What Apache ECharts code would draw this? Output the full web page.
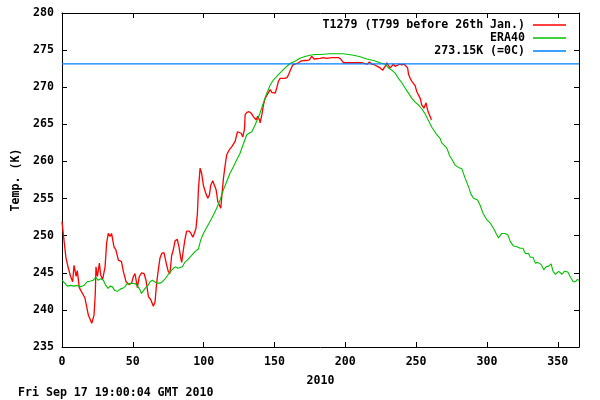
<!DOCTYPE html>
<html>
<head>
<meta charset="utf-8">
<script src="https://cdn.jsdelivr.net/npm/echarts@6/dist/echarts.min.js"></script>
<style>
html,body{margin:0;padding:0;background:#fff;}
#chart{width:600px;height:400px;}
</style>
</head>
<body>
<div id="chart"></div>
<script>
// ---- data ----
const seriesNames = ['T1279 (T799 before 26th Jan.)', 'ERA40', '273.15K (=0C)'];
const xTickValues = [0, 50, 100, 150, 200, 250, 300, 350];
const yearLabel = '2010';
const yAxisTitle = 'Temp. (K)';
const footerText = 'Fri Sep 17 19:00:04 GMT 2010';
const freezingK = 273.15;
const dayRange = [0, 365];

const redDays = [0,1,2.8,4.5,6.1,7.5,8.5,10,10.8,12.2,13.6,16.2,18.6,21,22.6,23.5,24,25,26.4,27.3,28.7,30.4,31.5,32.7,34,35,36.7,38,39.8,42,43.3,45.2,47.4,49.3,50.4,51.5,52.7,53.2,54.6,56.2,57.9,59.3,61,62.6,64.5,65.7,66.8,68,69.2,70.4,72,72.9,73.8,75,76.2,77.4,78.6,79.8,81.4,82.6,83.8,84.5,85.7,86.8,88,89.9,91,92.4,93.4,94.6,95.6,96.3,97.5,98.6,99.8,101.5,102.9,104.1,105,106.4,107.6,108.8,110,111.2,112.1,112.8,114,115.2,116.3,118.2,119.9,122.2,123.9,125.3,126.5,127.6,128.8,129.3,130.5,132.1,133.6,135.1,137,138.2,139.4,139.9,141.1,142.2,143.4,144.1,145.8,147,148.1,150.5,151.6,152.8,154,155.2,157.1,158.8,160,161.2,162.9,164.5,166.9,168.5,170.4,171.6,172.8,174.6,176.3,178,179.4,182.2,184.6,186.9,188.1,190.5,191.7,192.8,195.2,196.8,198.7,201.1,203.4,205.8,207,209.3,211.7,213.3,214.7,215.6,217,218.7,221,222.7,224.6,226.5,227.4,228.8,229.3,230.5,231.7,232.8,234,235.2,236.4,238.3,239.2,239.9,241.6,243,244,244.7,245.8,247,248.1,249.3,250.5,251.7,252.9,254,254.7,255.6,257,258,258.7,259.9,260.8];
const redTemps = [251.9,250.1,247.0,245.6,244.5,243.8,246.0,244.5,245.3,243.0,242.8,241.6,239.3,238.2,239.3,242.2,245.8,244.5,246.3,244.7,244.1,245.8,249.0,250.3,249.9,250.3,248.5,248.1,246.7,246.5,245.2,243.8,243.4,243.7,244.5,244.9,243.6,243.0,244.5,245.0,244.9,244.0,241.8,241.4,240.5,241.1,243.6,245.4,247.0,247.6,247.7,247.5,246.1,245.2,244.9,247.3,248.1,249.3,249.5,248.5,247.0,246.4,248.1,249.5,250.6,250.6,250.3,249.8,250.3,251.0,253.0,256.2,259.1,258.4,256.8,255.7,255.05,255.5,256.8,257.4,257.2,256.2,254.6,254.4,253.7,255.3,257.75,259.5,260.9,261.6,262.0,262.7,264.0,264.1,263.8,263.3,264.3,266.3,266.6,266.7,266.5,266.05,265.6,266.1,265.6,265.2,266.3,267.6,268.5,268.7,269.3,269.7,269.3,269.2,269.9,270.8,271.2,271.4,271.2,271.3,271.7,272.3,273.0,273.1,273.3,273.5,273.6,273.8,273.6,273.7,274.15,273.8,273.9,273.9,274.0,273.9,274.0,274.0,273.9,274.0,274.0,273.8,273.3,273.3,273.3,273.3,273.4,273.3,273.3,273.2,273.4,273.1,273.4,273.1,273.0,272.8,272.6,272.3,272.6,273.0,273.3,272.9,272.6,272.8,273.1,272.8,273.0,273.1,273.3,273.0,273.1,273.0,272.6,271.7,271.2,270.8,270.6,270.2,269.4,269.2,268.5,267.6,267.8,267.2,267.9,267.0,266.6,266.05,265.6];

const greenDays = [0,1.9,3.8,6.1,8.5,10.8,12.7,15.5,17.9,20.3,22.1,23.8,25.4,27.3,29.2,30.9,32.5,34,35.6,37.3,39.2,41.1,42.7,44.3,45.8,47.4,49.7,52.1,53.7,55.1,56.1,57.5,59.1,60.7,62.2,63.8,65.4,67.3,69.2,70.9,72.5,74.4,76.7,78.6,80.3,81.9,83.3,85,86.6,88.5,90.9,93.9,96.3,97.9,99.8,102.1,104.5,106.9,109.2,111.6,114,116.3,118.6,121,123.3,125.7,130.4,134,136.3,139.8,142.2,144.6,147,149.3,152.8,154,157.5,161,164.5,168,171.6,175.1,178.6,182.2,189.3,194,198.7,202.3,205.8,210.5,215.2,219.9,224.6,228.2,230.5,232.8,235.2,237.5,239.9,242.2,244.6,247,249.3,251.7,254,256.4,258.7,261.1,262.2,264.6,266.9,268.1,271.7,273.6,275.2,277.6,279.9,282.3,284.6,287,288.7,290.5,293.4,295.2,297.3,299.7,302.3,304.6,306.5,308.2,310.5,312.9,314.8,316.5,318.8,321.2,323.5,325.4,327.1,329.4,330.6,332.5,334.2,335.8,337.2,338.4,340.1,341.7,343.6,345.3,346.7,348.3,350.7,353,354.7,357.1,359,360.9,362.6,363.7,365];
const greenTemps = [244.0,243.6,243.2,243.3,243.2,243.3,243.1,243.3,243.8,243.9,244.0,244.4,244.0,244.2,244.0,243.3,242.9,243.2,243.1,242.6,242.5,242.8,242.9,243.1,243.5,243.5,243.6,243.5,243.1,242.7,242.2,242.6,243.0,243.3,243.8,244.0,243.8,243.6,243.6,243.8,244.1,244.6,245.2,245.6,245.8,245.6,245.6,245.8,246.4,246.7,247.2,247.85,248.2,249.4,250.3,251.1,251.9,252.8,253.7,254.8,256.2,257.3,258.4,259.3,260.2,261.1,263.6,264.0,264.9,266.5,267.9,269.2,270.3,271.0,271.7,271.9,272.6,273.2,273.5,273.9,274.15,274.3,274.4,274.4,274.5,274.5,274.5,274.4,274.3,274.1,273.8,273.6,273.3,273.1,272.6,272.3,271.9,271.2,270.6,269.9,269.2,268.5,268.0,267.6,267.1,266.4,265.5,264.6,264.5,263.6,263.1,262.5,261.8,260.8,260.3,259.5,259.2,259.0,257.75,256.6,255.6,255.05,254.8,254.1,253.0,252.2,251.7,251.0,250.3,249.7,250.3,250.3,250.1,249.2,248.6,248.5,248.3,248.3,247.6,247.6,247.1,247.1,246.3,246.4,246.6,246.1,245.4,245.8,245.9,246.2,245.2,244.8,245.2,244.8,245.2,245.1,244.4,243.8,243.8,244.1,244.0];

// ---- chart ----
const FONT = 'DejaVu Sans Mono';
const txt = {fontFamily: FONT, fontWeight: 'bold', fontSize: 11.6, color: '#000'};
const colors = ['#ff0000', '#00c000', '#0080ff'];

function zip(a, b) { return a.map((v, i) => [v, b[i]]); }

const chart = echarts.init(document.getElementById('chart'), null, {renderer: 'canvas'});

function axisCommon() {
  return {
    axisLine: {show: true, onZero: false, lineStyle: {color: '#000', width: 1}},
    axisTick: {show: true, inside: true, length: 5, lineStyle: {color: '#000', width: 1}},
    splitLine: {show: false}
  };
}

function legendFor(i, top) {
  return {
    data: [seriesNames[i]],
    right: 34,
    top: top,
    padding: 0,
    align: 'right',
    icon: 'rect',
    itemWidth: 33,
    itemHeight: 1.3,
    textStyle: Object.assign({}, txt, {padding: [0, 3, 0, 0]}),
    selectedMode: false
  };
}

const option = {
  animation: false,
  backgroundColor: '#fff',
  grid: {left: 62, right: 21, top: 13, bottom: 53, containLabel: false},
  legend: [legendFor(0, 19), legendFor(1, 32), legendFor(2, 45)],
  xAxis: [
    Object.assign(axisCommon(), {
      type: 'value', position: 'bottom', min: dayRange[0], max: dayRange[1], interval: 50,
      axisLabel: Object.assign({}, txt, {margin: 9, showMaxLabel: false,
        formatter: v => (xTickValues.indexOf(v) >= 0 ? String(v) : '')}),
      name: yearLabel, nameLocation: 'middle', nameGap: 28, nameTextStyle: txt
    }),
    Object.assign(axisCommon(), {
      type: 'value', position: 'top', min: dayRange[0], max: dayRange[1], interval: 50,
      axisLabel: {show: false}
    })
  ],
  yAxis: [
    Object.assign(axisCommon(), {
      type: 'value', position: 'left', min: 235, max: 280, interval: 5,
      axisLabel: Object.assign({}, txt, {margin: 8}),
      name: yAxisTitle, nameLocation: 'middle', nameGap: 40, nameRotate: 90, nameTextStyle: txt
    }),
    Object.assign(axisCommon(), {
      type: 'value', position: 'right', min: 235, max: 280, interval: 5,
      axisLabel: {show: false}
    })
  ],
  series: [
    {name: seriesNames[0], type: 'line', showSymbol: false, symbol: 'none',
     data: zip(redDays, redTemps), lineStyle: {color: colors[0], width: 1.3},
     itemStyle: {color: colors[0]}},
    {name: seriesNames[1], type: 'line', showSymbol: false, symbol: 'none',
     data: zip(greenDays, greenTemps), lineStyle: {color: colors[1], width: 1.1},
     itemStyle: {color: colors[1]}},
    {name: seriesNames[2], type: 'line', showSymbol: false, symbol: 'none',
     data: [[dayRange[0], freezingK], [dayRange[1], freezingK]],
     lineStyle: {color: colors[2], width: 1.3}, itemStyle: {color: colors[2]}}
  ],
  graphic: [
    {type: 'text', left: 18, top: 387,
     style: {text: footerText, font: 'bold 11.6px "DejaVu Sans Mono"', fill: '#000'}}
  ]
};
chart.setOption(option);
</script>
</body>
</html>
